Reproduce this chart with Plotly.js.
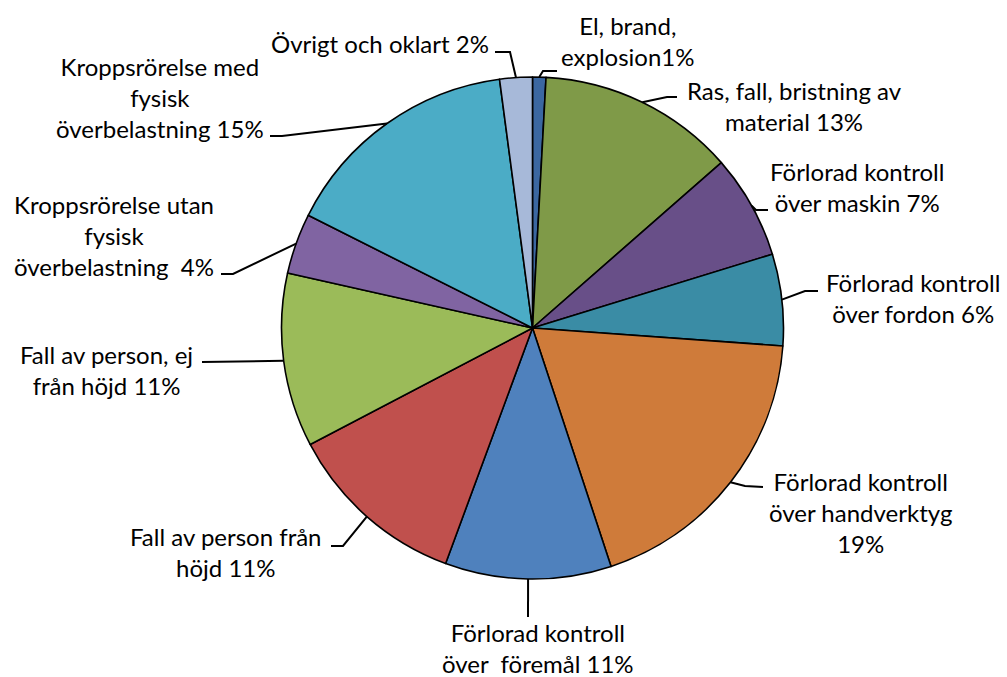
<!DOCTYPE html>
<html>
<head>
<meta charset="utf-8">
<script src="https://cdn.plot.ly/plotly-3.0.1.min.js"></script>
<style>html,body{margin:0;padding:0;background:#fff;}#chart{width:1007px;height:677px;}</style>
</head>
<body>
<div id="chart"></div>
<script>
// ---- data ----
const categories = [
  "El, brand, explosion",
  "Ras, fall, bristning av material",
  "Förlorad kontroll över maskin",
  "Förlorad kontroll över fordon",
  "Förlorad kontroll över handverktyg",
  "Förlorad kontroll över föremål",
  "Fall av person från höjd",
  "Fall av person, ej från höjd",
  "Kroppsrörelse utan fysisk överbelastning",
  "Kroppsrörelse med fysisk överbelastning",
  "Övrigt och oklart"
];
const shares = [0.86, 12.7, 6.7, 5.9, 18.8, 10.7, 11.7, 11.2, 3.9, 15.5, 2.1];
const labelTexts = [
  "El, brand,<br>explosion1%",
  "Ras, fall, bristning av<br>material 13%",
  "Förlorad kontroll<br>över maskin 7%",
  "Förlorad kontroll<br>över fordon 6%",
  "Förlorad kontroll<br>över handverktyg<br>19%",
  "Förlorad kontroll<br>över  föremål 11%",
  "Fall av person från<br>höjd 11%",
  "Fall av person, ej<br>från höjd 11%",
  "Kroppsrörelse utan<br>fysisk<br>överbelastning  4%",
  "Kroppsrörelse med<br>fysisk<br>överbelastning 15%",
  "Övrigt och oklart 2%"
];
const sliceColors = ["#3b67a1","#7f9a48","#684f88","#3a8ca5","#cf7b3a","#4f81bd","#c0504d","#9bbb59","#8064a2","#4bacc6","#a7b9d9"];

// ---- layout (pixels) ----
const W = 1007, H = 677;
const CX = 532.5, CY = 328, R = 251;
const labelLayout = [
  {x:628, y:41,  elbow:[543,71],  end:[557,71]},
  {x:794, y:106, elbow:[667,97],  end:[677,97]},
  {x:857, y:187, elbow:[756,210], end:[768,210]},
  {x:913, y:298, elbow:[805,291], end:[818,291]},
  {x:860, y:512, elbow:[745,486], end:[763,487]},
  {x:538, y:648, elbow:null,      end:[528,617]},
  {x:226, y:552, elbow:[343,546], end:[331,546]},
  {x:106, y:370, elbow:null,      end:[202,362]},
  {x:114, y:235, elbow:[233,274], end:[221,274]},
  {x:160, y:97,  elbow:[282,136], end:[270,136]},
  {x:380, y:44,  elbow:[510,52],  end:[495,52]}
];
const px = x => x / W;
const py = y => 1 - y / H;

const total = shares.reduce((a,b)=>a+b,0);
let cum = 0;
const shapes = [];
const annotations = [];
shares.forEach((v,i) => {
  const mid = (cum + v/2) / total * 2 * Math.PI;
  cum += v;
  const sx = CX + R * Math.sin(mid), sy = CY - R * Math.cos(mid);
  const L = labelLayout[i];
  let path = `M${px(sx)},${py(sy)}`;
  if (L.elbow) path += ` L${px(L.elbow[0])},${py(L.elbow[1])}`;
  path += ` L${px(L.end[0])},${py(L.end[1])}`;
  shapes.push({type:'path', xref:'paper', yref:'paper', path:path, line:{color:'#000', width:2}});
  annotations.push({
    xref:'paper', yref:'paper', x:px(L.x), y:py(L.y),
    xanchor:'center', yanchor:'middle', showarrow:false, align:'center',
    text:labelTexts[i], font:{family:'Lato, sans-serif', size:24, color:'#000'}
  });
});

const trace = {
  type:'pie', labels:categories, values:shares, sort:false, direction:'clockwise', rotation:0,
  marker:{colors:sliceColors, line:{color:'#000', width:1.6}},
  textinfo:'none', hoverinfo:'none',
  domain:{x:[(CX-R)/W,(CX+R)/W], y:[1-(CY+R)/H, 1-(CY-R)/H]}
};
const layout = {
  width:W, height:H, margin:{l:0,r:0,t:0,b:0}, showlegend:false,
  paper_bgcolor:'#fff', shapes:shapes, annotations:annotations
};
Plotly.newPlot('chart',[trace],layout,{displayModeBar:false, staticPlot:true});
</script>
</body>
</html>
